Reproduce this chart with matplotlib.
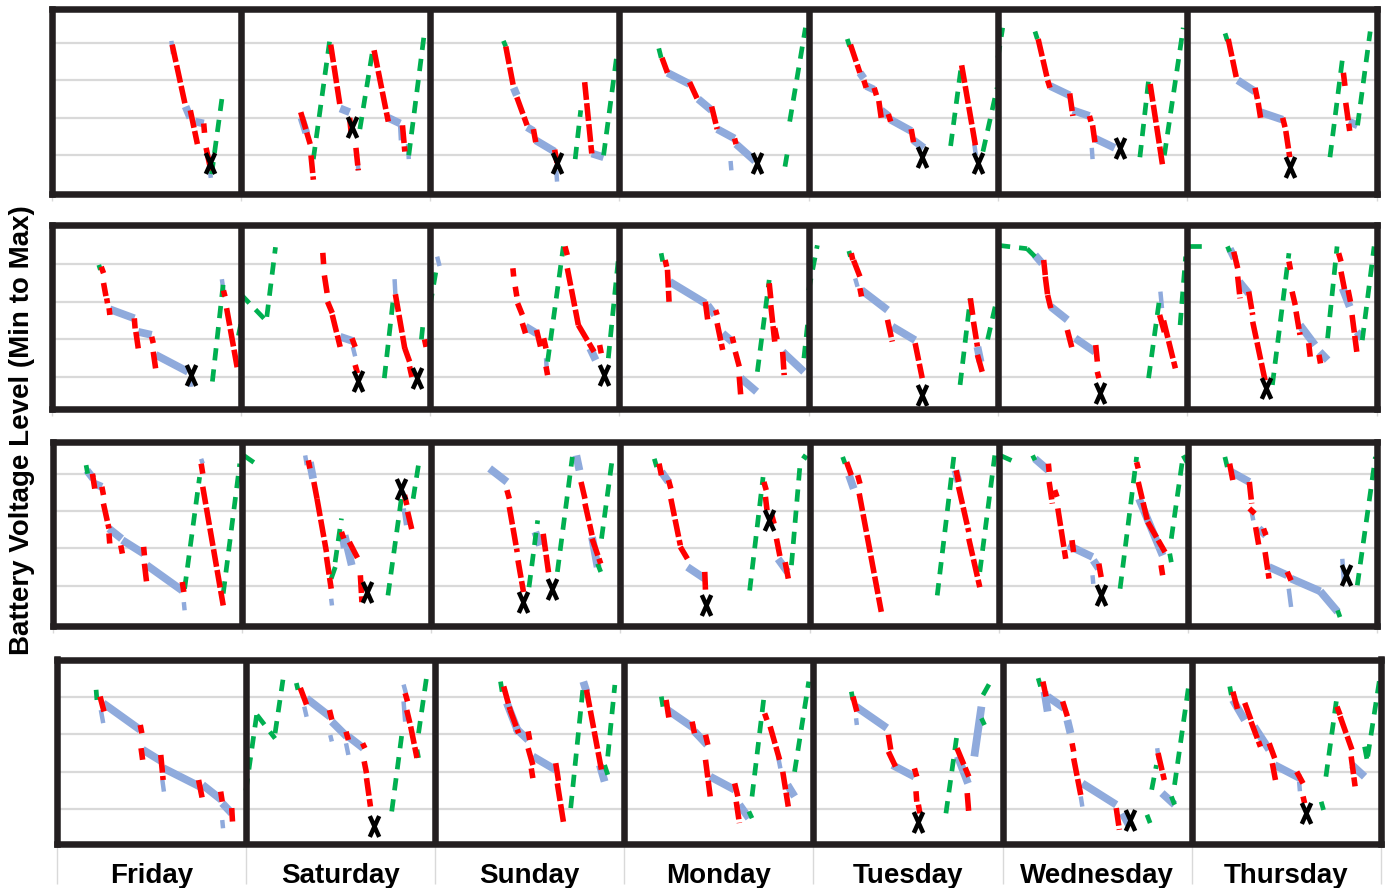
import matplotlib
matplotlib.use('Agg')
import matplotlib.pyplot as plt
from matplotlib.path import Path

days = ['Friday', 'Saturday', 'Sunday', 'Monday', 'Tuesday', 'Wednesday', 'Thursday']

# segments per day: (state, hour0, level0, hour1, level1)
# state 'r' = in use (discharging), 'b' = idle, 'g' = charging
week1 = [
    [('b', 15.2, 4.05, 15.4, 3.7), ('r', 15.3, 3.95, 17.0, 2.3), ('b', 17.0, 2.3, 17.6, 2.0),
     ('r', 17.6, 2.2, 18.5, 1.3), ('b', 18.2, 1.9, 19.3, 1.85), ('r', 19.3, 1.85, 19.4, 1.6),
     ('r', 19.6, 1.2, 20.2, 0.6), ('b', 20.0, 0.7, 20.2, 0.4), ('g', 20.3, 0.5, 21.6, 2.5)],
    [('r', 7.6, 2.15, 8.8, 1.3), ('b', 7.7, 2.0, 8.3, 1.6), ('r', 8.9, 1.0, 9.2, 0.35),
     ('g', 9.2, 0.9, 11.3, 4.1), ('r', 11.4, 3.95, 12.6, 2.3), ('b', 12.6, 2.25, 13.8, 2.15),
     ('r', 13.8, 2.0, 14.0, 1.6), ('r', 14.6, 1.2, 14.9, 0.6), ('b', 14.8, 0.9, 14.9, 0.6),
     ('g', 15.1, 1.7, 16.8, 3.9), ('r', 16.9, 3.8, 18.7, 1.9), ('b', 18.7, 2.0, 20.2, 1.85),
     ('b', 20.2, 1.8, 20.3, 1.4), ('r', 20.5, 1.8, 20.8, 1.1), ('b', 21.2, 1.3, 21.3, 0.9),
     ('g', 21.3, 1.0, 23.3, 4.3)],
    [('g', 9.3, 4.05, 9.6, 3.9), ('r', 9.6, 3.9, 10.6, 2.8), ('b', 10.6, 2.8, 11.0, 2.6),
     ('r', 11.0, 2.55, 12.3, 1.8), ('b', 12.3, 1.75, 13.1, 1.65), ('r', 13.1, 1.7, 13.4, 1.35),
     ('b', 13.4, 1.4, 15.8, 1.1), ('r', 15.8, 1.15, 16.1, 0.8), ('b', 16.0, 0.6, 16.1, 0.3),
     ('g', 18.4, 0.9, 19.1, 2.2), ('r', 19.6, 2.95, 20.5, 1.05), ('b', 20.5, 1.05, 22.0, 0.95),
     ('g', 22.0, 1.0, 23.7, 3.7)],
    [('g', 5.0, 3.85, 5.3, 3.6), ('r', 5.4, 3.6, 6.1, 3.2), ('b', 6.1, 3.2, 8.9, 2.9),
     ('r', 8.9, 2.95, 10.0, 2.45), ('b', 10.0, 2.5, 11.7, 2.2), ('r', 11.7, 2.3, 12.4, 1.7),
     ('b', 12.4, 1.7, 14.6, 1.45), ('r', 14.6, 1.45, 14.8, 1.3), ('b', 14.8, 1.3, 17.2, 0.85),
     ('b', 14.1, 0.85, 14.2, 0.6), ('g', 21.0, 0.7, 21.4, 1.2), ('g', 21.6, 1.9, 23.6, 4.4)],
    [('g', 4.9, 4.1, 5.2, 3.9), ('r', 5.3, 3.95, 6.5, 3.2), ('b', 6.5, 3.2, 7.0, 3.05),
     ('r', 7.0, 3.0, 7.3, 2.8), ('b', 7.3, 2.85, 8.3, 2.75), ('r', 8.3, 2.8, 8.6, 2.6),
     ('r', 8.9, 2.45, 9.2, 2.0), ('b', 9.2, 2.2, 10.1, 2.05), ('r', 10.1, 2.1, 10.4, 1.9),
     ('b', 10.4, 1.95, 13.0, 1.65), ('r', 13.0, 1.7, 13.3, 1.35), ('b', 13.3, 1.4, 14.6, 1.2),
     ('g', 18.0, 1.25, 19.3, 3.3), ('r', 19.4, 3.4, 21.2, 1.2), ('b', 21.0, 1.3, 21.2, 1.0),
     ('g', 22.1, 1.1, 23.9, 2.8)],
    [('g', 0.0, 3.6, 0.6, 4.4), ('g', 4.7, 4.3, 5.0, 4.1), ('r', 5.1, 4.1, 6.2, 3.1),
     ('r', 6.3, 3.0, 6.6, 2.8), ('b', 6.6, 2.85, 9.1, 2.6), ('r', 9.1, 2.65, 9.5, 2.05),
     ('b', 9.5, 2.2, 11.6, 2.05), ('r', 11.6, 2.05, 11.8, 1.9), ('r', 12.0, 1.8, 12.3, 1.35),
     ('b', 12.3, 1.45, 14.8, 1.2), ('b', 11.9, 1.2, 12.0, 0.9), ('g', 18.0, 0.95, 19.1, 3.0),
     ('r', 19.3, 2.9, 20.9, 0.7), ('g', 21.1, 1.0, 23.5, 4.4)],
    [('g', 4.8, 4.25, 5.1, 4.05), ('r', 5.2, 4.1, 6.3, 3.0), ('b', 6.4, 3.0, 8.6, 2.7),
     ('r', 8.6, 2.8, 8.9, 2.5), ('r', 9.0, 2.4, 9.3, 2.0), ('b', 9.3, 2.15, 12.1, 1.95),
     ('r', 12.1, 2.0, 12.4, 1.75), ('r', 12.5, 1.65, 13.0, 0.95), ('g', 18.1, 0.95, 19.7, 3.6),
     ('r', 19.8, 3.2, 20.0, 2.85), ('r', 20.1, 2.4, 20.6, 1.65), ('b', 20.5, 1.9, 21.6, 1.8),
     ('g', 21.6, 1.8, 23.2, 4.3)],
]
week1_x = [(0, 20.1, 0.8), (1, 14.1, 1.75), (2, 16.1, 0.8), (3, 17.4, 0.8),
           (4, 14.4, 0.95), (4, 21.5, 0.8), (5, 15.5, 1.2), (6, 13.0, 0.7)]

week2 = [
    [('g', 6.0, 3.98, 6.2, 3.85), ('r', 6.3, 3.93, 6.6, 3.76), ('r', 6.6, 3.5, 6.9, 3.15),
     ('r', 7.0, 3.09, 7.1, 2.96), ('r', 7.3, 2.83, 7.4, 2.65), ('b', 7.4, 2.8, 10.5, 2.56),
     ('r', 10.5, 2.56, 10.6, 2.29), ('r', 10.7, 2.2, 11.0, 1.76), ('b', 11.0, 2.2, 12.7, 2.12),
     ('r', 12.7, 2.07, 12.9, 1.9), ('r', 12.9, 1.67, 13.2, 1.23), ('b', 13.2, 1.59, 17.3, 1.14),
     ('b', 17.6, 0.95, 17.7, 0.74), ('g', 20.4, 0.88, 21.8, 3.53), ('b', 21.6, 3.6, 21.8, 3.3),
     ('r', 21.8, 3.3, 22.0, 3.14), ('r', 22.2, 2.83, 23.6, 1.19), ('g', 23.7, 2.1, 24.0, 2.4)],
    [('g', 0.0, 3.2, 3.2, 2.5), ('g', 3.3, 2.6, 4.4, 4.45), ('r', 10.4, 4.3, 10.5, 4.0),
     ('r', 10.6, 3.7, 11.0, 3.15), ('r', 11.0, 3.0, 11.6, 2.7), ('r', 11.6, 2.65, 12.6, 1.8),
     ('b', 12.6, 2.07, 14.3, 1.95), ('r', 14.1, 2.03, 14.5, 1.8), ('b', 14.2, 1.8, 14.5, 1.55),
     ('r', 14.5, 1.32, 14.8, 1.1), ('g', 18.2, 0.97, 19.4, 3.2), ('b', 19.5, 3.6, 19.6, 3.2),
     ('r', 19.6, 3.2, 20.8, 1.75), ('r', 20.8, 1.76, 21.4, 1.41), ('r', 21.4, 1.28, 21.7, 1.0),
     ('g', 22.9, 2.0, 23.1, 2.4), ('r', 23.3, 2.0, 23.5, 1.8)],
    [('g', 0.0, 2.9, 0.9, 4.0), ('b', 0.9, 4.2, 1.2, 3.95), ('r', 10.5, 3.89, 10.6, 3.67),
     ('r', 10.8, 3.4, 11.0, 3.14), ('r', 11.1, 2.96, 11.7, 2.65), ('r', 11.7, 2.43, 12.1, 2.16),
     ('b', 12.1, 2.34, 13.5, 2.16), ('r', 13.5, 2.25, 14.0, 1.81), ('r', 14.4, 2.03, 14.7, 1.76),
     ('b', 14.7, 1.5, 14.8, 1.2), ('r', 14.7, 1.28, 14.9, 1.05), ('g', 14.9, 1.41, 16.9, 4.47),
     ('r', 17.1, 4.47, 17.4, 4.24), ('r', 17.4, 3.89, 18.8, 2.38), ('r', 18.8, 2.38, 20.8, 1.67),
     ('b', 20.3, 1.76, 21.0, 1.45), ('r', 21.5, 1.85, 21.7, 1.63), ('g', 22.6, 1.5, 23.9, 4.2)],
    [('g', 5.3, 4.29, 5.5, 4.07), ('r', 5.8, 4.11, 6.0, 3.93), ('r', 6.1, 3.85, 6.3, 3.0),
     ('b', 6.4, 3.53, 10.9, 2.96), ('r', 10.9, 3.0, 11.2, 2.52), ('b', 11.2, 2.91, 12.1, 2.65),
     ('r', 12.2, 2.78, 12.4, 2.65), ('r', 12.4, 2.43, 13.1, 1.72), ('b', 13.1, 2.16, 14.3, 1.94),
     ('r', 14.3, 2.07, 14.5, 1.9), ('r', 14.7, 1.67, 15.2, 1.28), ('r', 15.2, 1.01, 15.4, 0.48),
     ('b', 15.4, 0.97, 17.4, 0.61), ('g', 17.5, 1.14, 19.0, 3.58), ('r', 19.0, 3.49, 19.2, 3.09),
     ('r', 19.2, 2.91, 19.7, 1.94), ('r', 19.7, 2.3, 20.0, 2.0), ('b', 20.7, 1.67, 23.4, 1.14),
     ('r', 20.7, 1.67, 20.9, 1.05), ('g', 23.4, 1.5, 23.9, 2.47)],
    [('g', 0.0, 3.3, 1.1, 4.5), ('g', 5.1, 4.35, 5.3, 4.2), ('r', 5.4, 4.29, 5.6, 4.11),
     ('r', 5.7, 4.1, 6.5, 3.67), ('b', 5.9, 3.62, 6.2, 3.4), ('r', 6.5, 3.36, 6.7, 3.14),
     ('b', 6.7, 3.31, 10.0, 2.78), ('r', 10.0, 2.52, 10.6, 1.94), ('b', 10.6, 2.34, 13.5, 1.98),
     ('r', 13.5, 1.9, 14.4, 0.97), ('g', 19.2, 0.79, 20.5, 3.09), ('r', 20.5, 3.09, 20.8, 2.65),
     ('r', 20.9, 2.47, 21.4, 1.81), ('b', 21.4, 1.8, 21.8, 1.4), ('r', 21.4, 1.59, 22.0, 1.14),
     ('g', 22.7, 2.0, 23.9, 3.1)],
    [('g', 0.0, 4.5, 3.7, 4.41), ('g', 3.7, 4.41, 4.7, 4.2), ('b', 4.7, 4.24, 5.6, 4.02),
     ('r', 5.8, 4.11, 6.0, 3.71), ('r', 6.0, 3.67, 6.3, 3.18), ('r', 6.3, 3.18, 6.7, 2.83),
     ('b', 6.7, 2.87, 8.8, 2.52), ('r', 8.8, 2.25, 9.4, 1.76), ('b', 9.8, 2.03, 12.3, 1.67),
     ('r', 12.4, 1.85, 12.6, 1.41), ('r', 12.6, 1.14, 12.8, 0.97), ('g', 19.1, 0.97, 20.5, 3.1),
     ('b', 20.6, 3.27, 20.8, 2.83), ('r', 20.5, 2.65, 21.2, 2.12), ('r', 21.0, 2.5, 22.5, 1.23),
     ('g', 23.1, 2.38, 23.8, 4.2)],
    [('g', 0.2, 4.47, 2.0, 4.47), ('g', 5.1, 4.47, 5.4, 4.33), ('b', 5.4, 4.41, 6.0, 4.15),
     ('r', 5.9, 4.33, 6.4, 3.89), ('r', 6.4, 3.67, 6.7, 3.09), ('b', 6.6, 3.53, 7.8, 3.22),
     ('r', 7.8, 3.27, 8.3, 2.65), ('r', 8.3, 2.47, 9.9, 0.88), ('g', 10.8, 0.79, 12.9, 4.29),
     ('r', 12.9, 4.07, 13.1, 3.85), ('r', 13.3, 3.27, 13.7, 2.91), ('r', 13.8, 2.74, 14.3, 2.12),
     ('b', 14.3, 2.38, 16.2, 1.85), ('r', 15.4, 1.9, 15.6, 1.54), ('r', 16.7, 1.59, 16.9, 1.36),
     ('b', 16.8, 1.67, 17.8, 1.45), ('g', 17.8, 2.03, 19.0, 4.47), ('r', 19.2, 4.29, 19.5, 4.07),
     ('r', 19.5, 3.8, 20.0, 3.27), ('b', 19.7, 3.36, 20.6, 2.87), ('r', 20.4, 3.31, 20.7, 3.0),
     ('r', 20.9, 2.65, 21.5, 1.67), ('b', 21.5, 2.2, 22.2, 2.03), ('g', 22.2, 1.98, 23.7, 4.47)],
]
week2_x = [(0, 17.7, 1.05), (1, 14.8, 0.9), (1, 22.3, 0.97), (2, 22.0, 1.05),
           (4, 14.4, 0.52), (5, 12.9, 0.57), (6, 10.0, 0.70)]

week3 = [
    [('g', 4.2, 4.23, 4.4, 4.0), ('b', 4.3, 4.09, 5.1, 3.87), ('r', 5.0, 4.0, 5.3, 3.6),
     ('b', 5.3, 3.73, 6.2, 3.65), ('r', 6.2, 3.65, 6.4, 3.43), ('r', 6.4, 3.2, 7.1, 2.53),
     ('b', 7.1, 2.53, 8.7, 2.26), ('r', 7.1, 2.4, 7.2, 2.13), ('r', 8.6, 2.08, 8.8, 1.86),
     ('b', 8.8, 2.22, 11.5, 1.86), ('r', 11.5, 2.04, 11.6, 1.81), ('r', 11.6, 1.59, 11.9, 1.05),
     ('b', 11.9, 1.55, 16.4, 0.87), ('r', 16.4, 1.1, 16.6, 0.83), ('b', 16.6, 0.56, 16.7, 0.34),
     ('g', 16.7, 0.92, 18.6, 3.91), ('b', 18.8, 4.4, 19.0, 4.27), ('r', 18.8, 4.27, 19.0, 4.0),
     ('r', 19.0, 3.65, 21.6, 0.47), ('g', 21.6, 0.79, 23.7, 4.27)],
    [('g', 0.2, 4.49, 1.5, 4.3), ('b', 8.0, 4.49, 8.2, 4.23), ('r', 8.4, 4.36, 8.6, 4.14),
     ('b', 8.6, 4.31, 9.0, 3.87), ('r', 9.1, 3.78, 9.5, 3.33), ('r', 9.5, 3.33, 10.7, 1.9),
     ('r', 10.7, 1.77, 11.3, 0.92), ('b', 11.3, 0.65, 11.4, 0.47), ('g', 11.3, 1.19, 11.9, 1.55),
     ('g', 11.8, 1.63, 12.6, 2.8), ('b', 12.5, 2.44, 12.8, 2.0), ('r', 12.6, 2.44, 12.9, 2.26),
     ('b', 13.0, 2.35, 13.9, 1.55), ('r', 13.6, 2.17, 14.7, 1.72), ('r', 15.0, 1.28, 15.2, 0.56),
     ('g', 18.5, 0.74, 20.2, 3.33), ('r', 20.6, 3.43, 20.9, 3.16), ('b', 20.5, 3.07, 20.8, 2.62),
     ('r', 21.0, 2.98, 21.6, 2.44), ('g', 21.7, 3.33, 22.4, 4.27)],
    [('b', 7.4, 4.14, 9.6, 3.78), ('r', 9.6, 3.56, 9.9, 3.33), ('r', 9.9, 3.11, 10.9, 1.9),
     ('r', 11.0, 1.68, 11.7, 0.83), ('g', 12.4, 0.96, 13.5, 2.75), ('b', 13.2, 2.44, 13.8, 2.08),
     ('r', 14.2, 2.39, 14.9, 1.32), ('g', 16.0, 1.37, 17.9, 4.45), ('b', 18.4, 4.49, 18.8, 4.09),
     ('r', 19.0, 3.78, 19.5, 3.33), ('r', 19.5, 3.2, 20.4, 2.35), ('b', 20.4, 2.3, 21.1, 1.5),
     ('r', 20.4, 2.26, 21.5, 1.59), ('g', 21.1, 1.59, 21.5, 1.37), ('g', 21.6, 2.26, 23.0, 4.45)],
    [('g', 4.3, 4.4, 4.6, 4.18), ('r', 4.9, 4.27, 5.2, 3.96), ('b', 5.2, 4.05, 6.1, 3.78),
     ('r', 6.1, 3.83, 6.4, 3.6), ('r', 6.4, 3.33, 7.6, 2.08), ('r', 7.6, 2.04, 8.5, 1.72),
     ('b', 8.5, 1.5, 10.7, 1.19), ('r', 10.7, 1.37, 10.8, 0.83), ('g', 16.4, 0.87, 18.1, 3.91),
     ('r', 18.2, 3.78, 18.5, 3.56), ('r', 18.4, 3.38, 18.6, 3.02), ('r', 19.2, 2.89, 19.5, 2.66),
     ('r', 19.8, 2.26, 20.3, 1.72), ('b', 20.0, 1.72, 21.2, 1.37), ('r', 20.9, 1.63, 21.3, 1.19),
     ('g', 21.7, 1.55, 22.8, 4.27), ('g', 23.1, 4.49, 23.7, 4.4)],
    [('g', 4.2, 4.45, 4.5, 4.27), ('r', 4.7, 4.31, 5.3, 3.96), ('b', 5.0, 3.96, 5.6, 3.6),
     ('r', 6.1, 3.96, 6.4, 3.73), ('r', 6.3, 3.47, 9.1, 0.3), ('g', 16.2, 0.74, 18.3, 4.45),
     ('b', 18.5, 4.09, 18.9, 3.78), ('r', 18.6, 4.09, 18.9, 3.78), ('r', 18.9, 3.65, 20.2, 2.44),
     ('r', 20.2, 2.26, 21.6, 0.96), ('g', 21.6, 1.37, 23.5, 4.49)],
    [('g', 0.2, 4.49, 2.1, 4.31), ('g', 4.3, 4.49, 4.6, 4.36), ('b', 4.6, 4.4, 6.3, 4.09),
     ('r', 6.3, 4.27, 6.4, 4.05), ('r', 6.4, 3.78, 6.8, 3.2), ('r', 7.1, 3.56, 7.4, 3.38),
     ('r', 7.5, 3.07, 8.5, 1.72), ('b', 8.8, 2.08, 11.9, 1.77), ('r', 9.3, 2.22, 9.5, 1.9),
     ('b', 12.0, 1.68, 12.7, 1.46), ('r', 12.7, 1.59, 13.0, 1.23), ('b', 11.9, 1.28, 12.0, 1.05),
     ('g', 15.4, 0.92, 17.5, 4.45), ('r', 17.5, 4.31, 17.7, 4.14), ('b', 17.8, 3.33, 20.8, 1.81),
     ('r', 17.7, 3.78, 18.9, 2.71), ('r', 18.9, 2.71, 21.1, 1.9), ('r', 20.6, 1.55, 20.8, 1.28),
     ('g', 21.7, 1.86, 21.9, 1.63), ('g', 21.9, 2.26, 23.4, 4.49), ('g', 23.4, 4.49, 23.9, 4.3)],
    [('g', 4.7, 4.45, 5.0, 4.18), ('r', 5.3, 4.27, 5.7, 3.83), ('b', 5.5, 4.05, 7.8, 3.78),
     ('r', 7.8, 3.78, 8.1, 3.2), ('r', 7.8, 3.07, 8.5, 2.93), ('b', 8.1, 2.98, 8.3, 2.75),
     ('r', 8.6, 2.57, 9.0, 2.08), ('b', 9.0, 2.53, 9.9, 2.35), ('r', 9.6, 2.53, 9.9, 2.35),
     ('r', 9.8, 1.9, 10.3, 1.19), ('b', 10.3, 1.5, 12.6, 1.28), ('r', 12.6, 1.37, 13.1, 1.14),
     ('b', 12.8, 0.92, 13.1, 0.43), ('b', 13.1, 1.19, 16.8, 0.85), ('b', 16.8, 0.85, 19.0, 0.3),
     ('g', 19.0, 0.34, 19.3, 0.16), ('b', 19.6, 1.72, 19.8, 1.1), ('g', 21.5, 1.01, 23.8, 4.45)],
]
week3_x = [(1, 15.8, 0.83), (1, 20.2, 3.6), (2, 11.7, 0.56), (2, 15.3, 0.92),
           (3, 10.9, 0.47), (3, 18.8, 2.75), (5, 13.0, 0.74), (6, 20.1, 1.28)]

week4 = [
    [('g', 5.0, 4.19, 5.1, 3.92), ('r', 5.5, 4.01, 6.0, 3.61), ('b', 5.6, 3.65, 5.9, 3.3),
     ('b', 5.9, 3.83, 10.6, 3.12), ('r', 10.6, 3.25, 10.8, 3.03), ('r', 10.7, 2.63, 10.9, 2.32),
     ('b', 10.9, 2.59, 13.3, 2.28), ('r', 13.2, 2.45, 13.5, 1.78), ('b', 13.4, 1.78, 13.6, 1.47),
     ('b', 13.5, 2.1, 18.2, 1.6), ('r', 18.0, 1.78, 18.5, 1.25), ('b', 18.5, 1.65, 20.9, 1.25),
     ('r', 20.8, 1.47, 21.0, 1.2), ('b', 21.0, 1.16, 22.2, 0.89), ('r', 22.2, 1.03, 22.3, 0.67),
     ('b', 21.0, 0.71, 21.1, 0.49)],
    [('g', 0.0, 1.5, 1.4, 3.57), ('g', 1.4, 3.52, 3.7, 2.89), ('g', 3.7, 3.03, 4.7, 4.46),
     ('g', 6.4, 4.37, 6.6, 4.19), ('r', 6.9, 4.24, 7.7, 3.79), ('b', 7.4, 3.74, 7.7, 3.47),
     ('b', 7.7, 3.96, 10.7, 3.47), ('r', 10.6, 3.65, 10.9, 3.39), ('b', 10.9, 3.34, 12.8, 2.94),
     ('b', 10.7, 2.98, 10.9, 2.81), ('r', 12.7, 3.07, 13.0, 2.85), ('b', 13.0, 2.94, 14.9, 2.63),
     ('r', 14.8, 2.76, 15.1, 2.63), ('b', 12.7, 2.76, 13.0, 2.45), ('r', 15.0, 2.28, 15.3, 1.96),
     ('r', 15.3, 1.83, 15.8, 1.07), ('g', 18.5, 0.94, 19.8, 3.03), ('b', 20.0, 4.33, 20.3, 4.1),
     ('r', 20.2, 4.1, 20.5, 3.88), ('b', 20.0, 3.88, 20.2, 3.34), ('r', 20.4, 3.65, 20.8, 3.3),
     ('r', 20.9, 3.21, 21.7, 2.37), ('g', 21.7, 2.59, 21.9, 2.37), ('g', 21.9, 3.03, 22.9, 4.5)],
    [('g', 8.3, 4.41, 8.5, 4.14), ('b', 9.1, 3.84, 10.6, 3.03), ('r', 8.7, 4.28, 9.5, 3.66),
     ('r', 9.5, 3.66, 10.6, 3.03), ('b', 10.2, 3.17, 11.8, 2.85), ('r', 11.8, 3.08, 12.0, 2.85),
     ('r', 11.8, 2.63, 12.4, 2.18), ('r', 12.2, 2.09, 12.4, 1.83), ('b', 12.4, 2.41, 15.3, 2.05),
     ('r', 15.3, 2.23, 15.7, 1.69), ('r', 15.5, 1.69, 16.3, 0.63), ('g', 17.2, 1.03, 18.8, 4.32),
     ('b', 18.8, 4.41, 19.2, 4.14), ('r', 19.2, 4.19, 21.1, 2.05), ('b', 20.9, 2.18, 21.5, 1.74),
     ('g', 21.5, 2.18, 21.9, 1.92), ('g', 21.9, 2.41, 22.8, 4.32)],
    [('g', 4.7, 4.01, 4.9, 3.74), ('r', 5.3, 3.92, 5.7, 3.38), ('b', 5.5, 3.65, 8.8, 3.17),
     ('r', 8.6, 3.34, 8.9, 3.03), ('b', 8.9, 3.08, 10.5, 2.72), ('r', 10.3, 2.99, 10.6, 2.72),
     ('r', 10.3, 2.32, 10.9, 1.34), ('b', 10.9, 1.87, 14.0, 1.52), ('r', 14.0, 1.69, 14.4, 1.34),
     ('r', 14.2, 1.2, 14.6, 0.63), ('b', 14.6, 1.12, 15.8, 0.76), ('g', 15.8, 0.94, 16.2, 0.76),
     ('g', 16.2, 1.34, 17.7, 3.97), ('r', 17.8, 3.56, 18.1, 3.38), ('r', 18.5, 3.21, 19.7, 2.32),
     ('b', 19.5, 2.41, 19.8, 2.09), ('r', 20.1, 2.0, 20.8, 1.07), ('b', 20.7, 1.65, 21.6, 1.34),
     ('g', 21.6, 2.0, 23.4, 4.41)],
    [('g', 4.8, 4.14, 5.0, 3.92), ('r', 5.0, 4.01, 5.5, 3.61), ('b', 5.4, 3.74, 9.3, 3.17),
     ('b', 5.4, 3.43, 5.5, 3.25), ('r', 9.5, 2.99, 9.8, 2.59), ('r', 9.5, 2.54, 10.4, 2.14),
     ('b', 10.0, 2.18, 12.8, 1.87), ('r', 12.8, 2.09, 13.1, 1.87), ('r', 13.0, 1.48, 13.1, 1.2),
     ('r', 13.3, 1.12, 13.5, 0.89), ('g', 16.8, 0.89, 18.2, 2.99), ('b', 18.3, 2.41, 19.6, 1.69),
     ('r', 18.2, 2.63, 19.7, 1.87), ('r', 19.5, 1.43, 19.7, 0.89), ('b', 20.4, 2.41, 21.3, 3.74),
     ('g', 21.3, 3.43, 21.7, 3.25), ('g', 21.5, 4.05, 22.7, 4.5)],
    [('g', 4.5, 4.5, 4.8, 4.28), ('r', 5.1, 4.41, 5.5, 4.01), ('b', 5.3, 4.14, 5.7, 3.61),
     ('b', 5.7, 4.01, 7.8, 3.7), ('r', 7.6, 3.88, 8.2, 3.48), ('b', 8.2, 3.38, 8.6, 3.03),
     ('r', 8.8, 2.76, 9.0, 2.54), ('r', 9.0, 2.36, 9.9, 1.38), ('b', 10.1, 1.69, 14.4, 1.12),
     ('b', 9.9, 1.34, 10.1, 1.07), ('r', 14.4, 1.03, 14.8, 0.45), ('b', 15.2, 0.89, 16.0, 0.58),
     ('g', 18.3, 0.85, 18.7, 0.63), ('g', 18.9, 1.52, 19.5, 2.18), ('b', 19.6, 2.63, 19.8, 2.32),
     ('r', 19.7, 2.5, 20.5, 1.78), ('b', 20.2, 1.43, 21.8, 1.12), ('g', 21.4, 1.34, 21.8, 1.12),
     ('g', 21.8, 1.65, 23.7, 4.46)],
    [('g', 4.8, 4.28, 5.0, 4.05), ('r', 5.2, 4.14, 5.8, 3.66), ('b', 5.2, 3.92, 6.7, 3.38),
     ('r', 6.7, 3.84, 7.5, 3.38), ('r', 7.5, 3.34, 8.7, 2.67), ('b', 7.9, 3.21, 9.8, 2.59),
     ('r', 9.8, 2.76, 10.5, 2.36), ('r', 10.2, 2.23, 10.6, 1.78), ('b', 10.5, 2.18, 13.7, 1.83),
     ('r', 13.3, 2.0, 14.1, 1.69), ('b', 13.6, 1.74, 13.7, 1.48), ('r', 14.1, 1.34, 14.3, 1.16),
     ('g', 16.4, 1.2, 16.7, 0.98), ('g', 17.0, 1.87, 18.4, 4.01), ('r', 18.4, 3.74, 18.8, 3.52),
     ('r', 18.8, 3.48, 20.3, 2.59), ('r', 20.2, 2.41, 20.7, 1.61), ('b', 20.3, 2.18, 21.9, 1.87),
     ('g', 21.9, 2.67, 22.3, 2.23), ('g', 22.3, 2.41, 23.8, 4.46)],
]
week4_x = [(1, 16.2, 0.54), (4, 13.3, 0.67), (5, 16.1, 0.71), (6, 14.5, 0.89)]

weeks = [week1, week2, week3, week4]
week_marks = [week1_x, week2_x, week3_x, week4_x]

# row boxes in pixels (left, top, right, bottom) and y range of each row
W, H = 1388, 888
boxes = [(51.5, 9, 1376.5, 194), (51.5, 225, 1376.5, 409),
         (53, 442, 1377, 626), (56.7, 659.5, 1381.1, 844)]
ylims = [(-0.03, 4.90), (0.15, 5.04), (-0.08, 4.85), (0.07, 5.0)]

frame_col = '#231f20'
styles = {
    'b': dict(color='#8faadc', lw=5.6, solid_capstyle='butt', zorder=2),
    'g': dict(color='#00b050', lw=3.4, ls=(0, (2.6, 1.9)), dash_capstyle='butt', zorder=3),
    'r': dict(color='#ff0000', lw=4.0, ls=(0, (3.2, 0.6)), dash_capstyle='butt', zorder=4),
}
xmark = Path([(-0.45, -1), (0.45, 1), (-0.45, 1), (0.45, -1)],
             [Path.MOVETO, Path.LINETO, Path.MOVETO, Path.LINETO])

plt.rcParams['font.family'] = ['Liberation Sans', 'DejaVu Sans']

fig = plt.figure(figsize=(W / 100, H / 100), dpi=100)

axes = []
for i, (x0, y0, x1, y1) in enumerate(boxes):
    ax = fig.add_axes([x0 / W, 1 - y1 / H, (x1 - x0) / W, (y1 - y0) / H])
    ax.set_xlim(0, 168)
    ax.set_ylim(*ylims[i])
    ax.set_yticks([1, 2, 3, 4])
    ax.yaxis.grid(True, color='#d9d9d9', lw=1.6, zorder=0)
    ax.tick_params(axis='y', length=0, labelleft=False)
    ax.set_xticks(range(0, 169, 24))
    ax.tick_params(axis='x', direction='out', color='#d9d9d9', width=1,
                   length=29 if i == 3 else 5, labelbottom=False)
    ax.set_axisbelow(True)
    for sp in ax.spines.values():
        sp.set_linewidth(4.7)
        sp.set_color(frame_col)
        sp.set_zorder(6)
    for d in range(1, 7):
        ax.axvline(24 * d, color=frame_col, lw=4.7, zorder=6)

    for state in ['b', 'g', 'r']:
        for d, segs in enumerate(weeks[i]):
            for s, h0, v0, h1, v1 in segs:
                if s != state:
                    continue
                st = dict(styles[state])
                # short near-vertical idle blips are drawn thinner
                if state == 'b' and abs(h1 - h0) < 0.35:
                    st['lw'] = 3.2
                ax.plot([24 * d + h0, 24 * d + h1], [v0, v1], **st)

    for d, h, v in week_marks[i]:
        ax.plot(24 * d + h, v, marker=xmark, ms=15, mew=3.2, color='black',
                ls='none', zorder=5)
    axes.append(ax)

# day names under the last row
ax4 = axes[3]
for d, name in enumerate(days):
    ax4.text(24 * d + 12, -0.211, name, transform=ax4.get_xaxis_transform(),
             ha='center', va='baseline', fontsize=20, fontweight='bold')

fig.text(22.5 / W, 1 - 430 / H, 'Battery Voltage Level (Min to Max)', rotation=90,
         ha='center', va='center', fontsize=20, fontweight='bold')

fig.savefig('out.png', dpi=100)
